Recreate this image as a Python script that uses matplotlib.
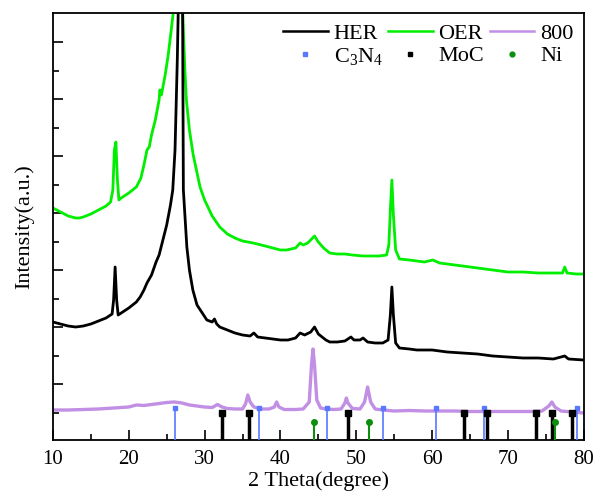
import matplotlib
matplotlib.use('Agg')
import matplotlib.pyplot as plt
import matplotlib.lines as line

plt.rcParams['font.family'] = ['Liberation Serif', 'DejaVu Serif']
plt.rcParams['mathtext.fontset'] = 'custom'
plt.rcParams['mathtext.rm'] = 'Liberation Serif'
plt.rcParams['mathtext.it'] = 'Liberation Serif:italic'

# HER pattern (2theta, intensity a.u.)
her_x = [10, 11, 12, 13, 14, 15, 16, 17, 17.8, 18.0, 18.2, 18.4, 18.6, 19.0, 20.0, 21.0, 21.5, 22.0,
         22.4, 23.0, 23.6, 24.0, 24.4, 25.0, 25.5, 25.8, 26.1, 26.4, 26.6, 26.8, 27.0, 27.1, 27.2,
         27.66, 28.0, 28.45, 29.0, 30.3, 31.0, 31.3, 31.6, 32.0, 33.0, 34.0, 35.0, 36.0, 36.5, 37.0,
         38.0, 39.0, 40.0, 41.0, 42.0, 42.6, 43.2, 44.0, 44.5, 45.0, 46.0, 46.5, 47.5, 48.5, 49.3,
         49.7, 50.5, 50.9, 51.5, 52.5, 53.5, 54.2, 54.5, 54.7, 54.9, 55.2, 55.7, 57, 58, 60, 62, 64,
         66, 68, 70, 72, 74, 76, 77.5, 78, 80]
her_y = [118, 116, 114, 113, 114, 116, 119, 122, 126, 140, 173, 140, 125, 127, 132, 138, 143, 150,
         157, 165, 178, 185, 197, 215, 235, 250, 290, 380, 460, 520, 460, 430, 250,
         193, 170, 150, 135, 120, 118, 121, 116, 113, 110, 107, 105, 104, 107, 103,
         102, 101, 100, 100, 102, 107, 105, 108, 113, 106, 100, 98, 98, 99, 103,
         100, 100, 102, 98, 97, 97, 100, 125, 153, 125, 97, 92, 91, 90, 90, 88, 87,
         86, 84, 83, 82, 82, 81, 84, 81, 80]

# OER pattern
oer_x = [10, 11, 12, 13, 13.5, 14, 15, 16, 17, 17.6, 17.9, 18.1, 18.3, 18.5, 18.7, 19.0, 20.0, 21.0,
         21.6, 22.0, 22.4, 22.7, 23.0, 23.5, 24.0, 24.1, 24.3, 24.8, 25.2, 25.6, 25.9, 26.2, 26.5,
         26.8, 27.1, 27.4, 27.6, 28.0, 28.5, 29.4, 30.0, 31.0, 32.0, 33.0, 34.0, 35.0, 36.4, 38.0,
         39.0, 40.0, 40.8, 42.0, 42.6, 43.0, 43.6, 44.5, 45.0, 45.7, 46.5, 47.5, 48.5, 49.5, 50.9,
         52.0, 53.0, 54.0, 54.3, 54.5, 54.7, 54.9, 55.2, 55.7, 57, 59, 60.1, 61, 62, 64, 66, 68, 70,
         72, 74, 76, 77.2, 77.5, 77.8, 79, 80]
oer_y = [232, 228, 224, 222, 222, 223, 226, 230, 234, 238, 250, 290, 298, 260, 240, 242, 247, 253,
         262, 275, 290, 293, 305, 320, 340, 350, 345, 365, 385, 410, 430, 480, 520,
         480, 430, 370, 340, 310, 285, 253, 240, 224, 213, 206, 202, 199, 197, 194,
         192, 190, 190, 192, 197, 195, 197, 204, 198, 192, 187, 186, 186, 185, 184,
         184, 184, 185, 195, 230, 260, 225, 190, 181, 180, 178, 180, 177, 176, 174, 172, 170, 168,
         168, 167, 167, 167, 173, 167, 166, 166]

# 800 pattern
s800_x = [10, 12, 14, 16, 18, 20, 21, 22, 23, 24, 25, 26, 27, 28, 29, 30, 31, 31.7, 32.3, 33, 34,
          35, 35.4, 35.7, 36.0, 36.5, 37.5, 38.5, 39.2, 39.5, 39.8, 40.5, 42, 43, 43.8, 44.1, 44.3,
          44.5, 44.8, 45.3, 46, 47, 48, 48.5, 48.7, 48.9, 49.5, 50.5, 51.1, 51.5, 51.9, 52.5, 53.5,
          55, 57, 59, 61, 63, 65, 67, 69, 71, 73, 74.5, 75.4, 75.8, 76.2, 77, 78.5, 80]
s800_y = [30, 30, 30.5, 31, 32, 33, 35, 34.5, 35.5, 36.5, 37.5, 38, 37, 35, 34, 33, 32.5, 35.5, 33, 31.5, 31,
          31, 36, 45, 38, 33, 31, 31, 33, 38, 33, 30.5, 30.5, 31, 38, 75, 91,
          75, 40, 32, 31, 30.5, 31, 37, 42, 37, 31.5, 31, 38, 53, 38, 31, 30,
          29, 29.5, 29, 29, 29, 28.5, 28.5, 28.5, 28.5, 28.5, 29, 34, 38, 33, 29, 28, 27]

# reference lines
c3n4_pos = [26.1, 37.2, 46.1, 53.5, 60.5, 66.9, 79.1]
moc_pos = [32.3, 35.8, 48.9, 64.2, 67.3, 73.7, 75.8, 78.5]
ni_pos = [44.4, 51.7, 76.2]
c3n4_h, moc_h, ni_h = 32, 27, 18

col_800 = '#c18fe4'
col_c3n4 = '#5878ff'
col_ni = '#0c8f0c'

fig = plt.figure(figsize=(5.95, 5.0), dpi=100)
ax = fig.add_axes([0.089, 0.12, 0.892, 0.854])

ax.plot(oer_x, oer_y, color='#00ee00', linewidth=2.0, zorder=2)
ax.plot(her_x, her_y, color='black', linewidth=2.0, zorder=3)
ax.plot(s800_x, s800_y, color=col_800, linewidth=2.4, zorder=2)

ax.vlines(c3n4_pos, 0, c3n4_h, color=col_c3n4, linewidth=1.2, zorder=4)
ax.plot(c3n4_pos, [c3n4_h] * len(c3n4_pos), 's', color=col_c3n4, markersize=3.5, zorder=4)
ax.vlines(moc_pos, 0, moc_h, color='black', linewidth=2.5, zorder=4)
ax.plot(moc_pos, [moc_h] * len(moc_pos), 's', color='black', markersize=4, zorder=4)
ax.vlines(ni_pos, 0, ni_h, color=col_ni, linewidth=1.5, zorder=4)
ax.plot(ni_pos, [ni_h] * len(ni_pos), 'o', color=col_ni, markersize=4, zorder=4)

ax.set_xlim(10, 80)
ax.set_ylim(0, 427)
ax.set_xticks(range(10, 81, 10))
ax.set_xticks(range(15, 80, 10), minor=True)
ax.set_yticks([56 + 57 * k for k in range(7)])
ax.set_yticks([27.5 + 57 * k for k in range(7)], minor=True)
ax.set_yticklabels([])
ax.tick_params(axis='both', which='both', direction='in', width=1.2)
ax.tick_params(axis='both', which='major', length=7, labelsize=15)
ax.tick_params(axis='both', which='minor', length=4)
ax.tick_params(axis='x', pad=7)
for s in ax.spines.values():
    s.set_linewidth(1.3)

ax.set_xlabel('2 Theta(degree)', fontsize=16, labelpad=2)
ax.set_ylabel('Intensity(a.u.)', fontsize=16, labelpad=10)

handles = [line.Line2D([], [], color='black', linewidth=1.8),
           line.Line2D([], [], color=col_c3n4, marker='s', linestyle='none', markersize=3.5),
           line.Line2D([], [], color='#00ee00', linewidth=1.8),
           line.Line2D([], [], color='black', marker='s', linestyle='none', markersize=3.5),
           line.Line2D([], [], color=col_800, linewidth=1.8),
           line.Line2D([], [], color=col_ni, marker='o', linestyle='none', markersize=3.5)]
labels = ['HER', 'C$_\\mathrm{3}$N$_\\mathrm{4}$', 'OER', 'MoC', '800', 'Ni']
ax.legend(handles, labels, ncol=3, frameon=False, loc='upper right', bbox_to_anchor=(1.0, 1.0),
          prop={'size': 16}, handlelength=2.0, handletextpad=0.27, columnspacing=0.25,
          labelspacing=0.1, borderpad=0.45, borderaxespad=0.0)

fig.savefig('out.png', dpi=100)
